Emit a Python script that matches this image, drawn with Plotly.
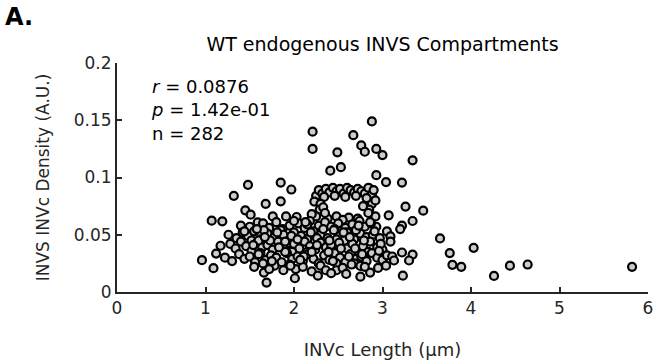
import plotly.graph_objects as go

# ---- data ----
top_x = [2.21, 2.21, 2.49, 2.53, 2.41, 2.67, 2.76, 2.80, 2.88, 2.93, 3.00, 2.93, 3.04, 3.34, 3.22, 2.85, 1.48, 1.85, 1.97, 1.32]
top_y = [0.140, 0.125, 0.122, 0.109, 0.106, 0.137, 0.128, 0.1225, 0.149, 0.125, 0.1196, 0.102, 0.096, 0.115, 0.0956, 0.0905, 0.0936, 0.0956, 0.0895, 0.084]

ring_x = [2.25, 2.28, 2.32, 2.36, 2.40, 2.44, 2.48, 2.52, 2.56, 2.60, 2.64, 2.68, 2.72, 2.76, 2.80, 2.84, 2.88, 2.34, 2.46, 2.58, 2.70, 2.90]
ring_y = [0.084, 0.089, 0.086, 0.090, 0.087, 0.091, 0.088, 0.090, 0.086, 0.091, 0.089, 0.087, 0.090, 0.088, 0.086, 0.091, 0.085, 0.083, 0.084, 0.083, 0.084, 0.089]

b75_x = [2.23, 2.30, 2.29, 2.88, 2.85, 2.92, 2.78, 1.68, 1.85, 2.33, 2.82]
b75_y = [0.079, 0.077, 0.072, 0.077, 0.072, 0.080, 0.075, 0.077, 0.0792, 0.074, 0.082]

b68_x = [1.45, 1.51, 1.76, 1.91, 2.03, 2.25, 2.38, 2.48, 2.62, 2.72, 2.92, 3.07, 3.26, 3.46, 2.20, 2.55, 2.84]
b68_y = [0.0713, 0.0675, 0.066, 0.066, 0.0655, 0.066, 0.064, 0.066, 0.065, 0.064, 0.066, 0.067, 0.0746, 0.071, 0.068, 0.063, 0.069]

b60_x = [1.07, 1.19, 1.59, 1.40, 1.50, 1.65, 1.72, 1.80, 1.95, 2.05, 2.12, 2.18, 2.28, 2.35, 2.42, 2.50, 2.58, 2.66, 2.74, 2.80, 2.93, 3.34, 3.22, 3.20, 2.15, 1.87, 2.00, 2.46]
b60_y = [0.0623, 0.0617, 0.0608, 0.058, 0.057, 0.060, 0.056, 0.061, 0.058, 0.060, 0.056, 0.062, 0.058, 0.061, 0.057, 0.060, 0.056, 0.059, 0.062, 0.057, 0.057, 0.062, 0.058, 0.055, 0.059, 0.055, 0.062, 0.055]

b50_x = [1.26, 1.35, 1.42, 1.48, 1.55, 1.62, 1.70, 1.78, 1.85, 1.92, 2.00, 2.08, 2.15, 2.22, 2.30, 2.38, 2.45, 2.52, 2.60, 2.68, 2.75, 2.82, 2.89, 2.97, 3.05, 3.09, 1.52, 1.88, 2.48, 2.26, 1.66, 2.70, 1.97]
b50_y = [0.050, 0.047, 0.052, 0.049, 0.053, 0.046, 0.051, 0.048, 0.054, 0.047, 0.052, 0.049, 0.046, 0.053, 0.050, 0.047, 0.054, 0.049, 0.052, 0.046, 0.051, 0.048, 0.050, 0.047, 0.053, 0.0485, 0.045, 0.050, 0.046, 0.047, 0.054, 0.054, 0.049]

b40_x = [1.17, 1.28, 1.34, 1.40, 1.46, 1.52, 1.58, 1.64, 1.70, 1.76, 1.82, 1.88, 1.94, 2.00, 2.06, 2.12, 2.18, 2.24, 2.30, 2.36, 2.42, 2.48, 2.54, 2.60, 2.66, 2.72, 2.78, 2.86, 2.94, 3.00, 3.09, 3.65, 4.03, 1.60, 1.98, 2.40, 2.84, 1.73, 2.15, 2.57]
b40_y = [0.0404, 0.042, 0.038, 0.044, 0.040, 0.036, 0.043, 0.039, 0.041, 0.037, 0.044, 0.040, 0.036, 0.042, 0.038, 0.044, 0.040, 0.037, 0.043, 0.039, 0.041, 0.036, 0.044, 0.038, 0.042, 0.036, 0.040, 0.044, 0.039, 0.037, 0.044, 0.0468, 0.0386, 0.045, 0.035, 0.045, 0.035, 0.045, 0.035, 0.045]

b30_x = [0.96, 1.12, 1.22, 1.30, 1.38, 1.44, 1.50, 1.56, 1.62, 1.68, 1.74, 1.80, 1.86, 1.92, 1.98, 2.04, 2.10, 2.16, 2.22, 2.28, 2.34, 2.40, 2.46, 2.52, 2.58, 2.64, 2.70, 2.76, 2.82, 2.88, 2.94, 3.00, 3.05, 3.11, 3.22, 3.34, 3.76, 1.65, 2.20, 2.48, 1.90, 2.68, 3.13, 3.30]
b30_y = [0.0278, 0.0336, 0.030, 0.027, 0.033, 0.029, 0.031, 0.026, 0.034, 0.028, 0.032, 0.030, 0.026, 0.034, 0.029, 0.031, 0.027, 0.033, 0.029, 0.025, 0.032, 0.028, 0.034, 0.030, 0.026, 0.033, 0.029, 0.031, 0.027, 0.034, 0.030, 0.028, 0.032, 0.031, 0.0345, 0.0327, 0.034, 0.025, 0.035, 0.025, 0.035, 0.025, 0.0275, 0.0275]

b20_x = [1.09, 1.55, 1.66, 1.78, 1.88, 1.95, 2.02, 2.10, 2.20, 2.30, 2.48, 2.55, 2.65, 2.75, 2.86, 2.95, 3.04, 3.79, 3.89, 4.44, 4.64, 5.82, 1.72, 2.36, 2.80]
b20_y = [0.0208, 0.022, 0.017, 0.023, 0.019, 0.024, 0.020, 0.022, 0.018, 0.023, 0.019, 0.021, 0.024, 0.0228, 0.017, 0.021, 0.023, 0.0237, 0.022, 0.023, 0.024, 0.022, 0.020, 0.019, 0.022]

low_x = [1.69, 2.01, 2.27, 2.59, 2.75, 3.23, 4.26, 2.42]
low_y = [0.0082, 0.012, 0.0143, 0.0158, 0.0134, 0.0143, 0.014, 0.0164]

extra_x = [1.54, 1.60, 1.67, 1.75, 1.83, 1.90, 1.96, 2.04, 2.11, 2.19, 2.33, 2.39, 2.44, 2.51, 2.56, 2.62, 2.69, 2.73, 2.79, 2.87, 2.91, 2.98, 1.58, 1.81, 2.07, 2.26, 2.53, 2.63, 2.77, 2.96, 1.44, 2.13, 2.35, 2.86]
extra_y = [0.041, 0.033, 0.048, 0.027, 0.039, 0.044, 0.023, 0.046, 0.031, 0.052, 0.055, 0.035, 0.027, 0.043, 0.052, 0.031, 0.038, 0.058, 0.045, 0.060, 0.053, 0.042, 0.055, 0.052, 0.028, 0.041, 0.038, 0.048, 0.033, 0.036, 0.053, 0.061, 0.069, 0.061]

length_um = top_x + ring_x + b75_x + b68_x + b60_x + b50_x + b40_x + b30_x + b20_x + low_x + extra_x
density = top_y + ring_y + b75_y + b68_y + b60_y + b50_y + b40_y + b30_y + b20_y + low_y + extra_y

x_ticks = [0, 1, 2, 3, 4, 5, 6]
y_ticks = [0, 0.05, 0.1, 0.15, 0.2]
y_tick_labels = ["0", "0.05", "0.1", "0.15", "0.2"]

FONT = "DejaVu Sans, Liberation Sans, Arial, sans-serif"
AX = "#262626"

fig = go.Figure()
fig.add_trace(go.Scatter(
    x=length_um, y=density, mode="markers",
    marker=dict(symbol="circle", size=8, color="#cccccc",
                line=dict(color="#000000", width=2.2)),
    showlegend=False, hoverinfo="skip"))

axis_common = dict(showline=True, linecolor=AX, linewidth=2, ticks="inside",
                   ticklen=5, tickwidth=2, tickcolor=AX, showgrid=False,
                   zeroline=False, mirror=False,
                   tickfont=dict(family=FONT, size=17, color=AX))

fig.update_layout(
    width=659, height=364,
    margin=dict(l=117, r=6, t=63, b=72),
    plot_bgcolor="white", paper_bgcolor="white",
    font=dict(family=FONT, size=17, color=AX),
    title=dict(text="WT endogenous INVS Compartments", x=0.5, xref="paper",
               xanchor="center", y=1 - 44 / 364, yref="container", yanchor="middle",
               font=dict(family=FONT, size=19, color="#000000")),
    xaxis=dict(range=[0, 6], tickvals=x_ticks, ticktext=[str(v) for v in x_ticks],
               title=dict(text="INVc Length (µm)", standoff=26,
                          font=dict(family=FONT, size=18, color=AX)),
               **axis_common),
    yaxis=dict(range=[0, 0.2], tickvals=y_ticks, ticktext=y_tick_labels,
               title=dict(text="INVS INVc Density (A.U.)", standoff=20,
                          font=dict(family=FONT, size=17, color=AX)),
               **axis_common),
)

fig.add_annotation(
    text="<i>r</i> = 0.0876<br><i>p</i> = 1.42e-01<br>n = 282",
    xref="paper", yref="paper", x=0.06, y=0.95, xanchor="left", yanchor="top",
    align="left", showarrow=False,
    font=dict(family=FONT, size=18, color="#000000"))

fig.add_annotation(
    text="<b>A.</b>", xref="paper", yref="paper", x=-0.214, y=1.20,
    xanchor="left", yanchor="middle", showarrow=False,
    font=dict(family=FONT, size=24, color="#000000"))

fig.write_html("out.html")
